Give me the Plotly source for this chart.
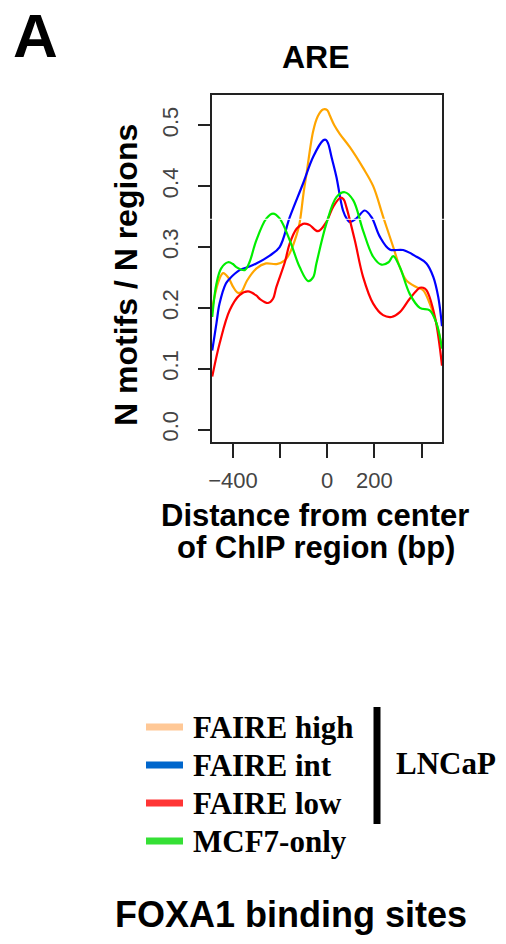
import plotly.graph_objects as go

# ARE motif density around FOXA1 ChIP region centres (N motifs / N regions)
high_x = [-488, -460, -442, -420, -400, -380, -365, -340, -300, -260, -215, -180, -159, -130, -117,
          -100, -88, -60, -40, -18, 0, 11, 30, 53, 96, 152, 195, 237, 280, 308, 336, 379, 407,
          435, 464, 487]
high_y = [0.200, 0.245, 0.257, 0.250, 0.235, 0.225, 0.226, 0.245, 0.265, 0.273, 0.272, 0.278,
          0.290, 0.320, 0.340, 0.390, 0.420, 0.490, 0.515, 0.526, 0.525, 0.516, 0.500, 0.486,
          0.464, 0.430, 0.400, 0.350, 0.300, 0.267, 0.245, 0.234, 0.229, 0.207, 0.174, 0.135]

int_x = [-488, -470, -457, -430, -414, -372, -330, -301, -244, -202, -159, -103, -60, -18, -5, 4,
         20, 39, 67, 85, 96, 124, 159, 188, 223, 265, 322, 379, 421, 450, 471, 487]
int_y = [0.130, 0.175, 0.207, 0.240, 0.248, 0.262, 0.268, 0.273, 0.286, 0.300, 0.349, 0.404,
         0.448, 0.475, 0.476, 0.470, 0.445, 0.415, 0.360, 0.345, 0.341, 0.347, 0.360, 0.349,
         0.317, 0.296, 0.295, 0.284, 0.273, 0.251, 0.218, 0.170]

low_x = [-488, -457, -414, -372, -336, -300, -287, -251, -230, -216, -180, -159, -130, -103, -88,
         -74, -39, -4, 25, 56, 70, 81, 117, 152, 195, 237, 273, 308, 350, 393, 407, 421, 457, 487]
low_y = [0.087, 0.141, 0.196, 0.221, 0.227, 0.220, 0.215, 0.208, 0.215, 0.234, 0.275, 0.306,
         0.330, 0.338, 0.338, 0.336, 0.326, 0.341, 0.366, 0.381, 0.378, 0.366, 0.311, 0.251,
         0.207, 0.188, 0.185, 0.193, 0.215, 0.233, 0.233, 0.229, 0.185, 0.105]

mcf7_x = [-488, -470, -450, -421, -400, -386, -350, -330, -301, -258, -230, -202, -159, -117, -81,
          -60, -46, -4, 39, 74, 110, 152, 195, 230, 260, 280, 308, 350, 393, 435, 464, 487]
mcf7_y = [0.185, 0.240, 0.265, 0.275, 0.272, 0.267, 0.262, 0.275, 0.311, 0.347, 0.355, 0.347,
          0.311, 0.267, 0.244, 0.250, 0.273, 0.338, 0.382, 0.390, 0.377, 0.327, 0.284, 0.271,
          0.275, 0.285, 0.267, 0.223, 0.200, 0.196, 0.174, 0.133]

series_names = ["FAIRE high", "FAIRE int", "FAIRE low", "MCF7-only"]
line_colors = ["#FFA500", "#0000FF", "#FF0000", "#00EE00"]
key_colors = ["#FFC896", "#0066CC", "#FF3535", "#35E035"]

x_tick_vals = [-400, -200, 0, 200, 400]
x_tick_text = ["\u2212400", "", "0", "200", ""]
y_tick_vals = [0.0, 0.1, 0.2, 0.3, 0.4, 0.5]
y_tick_text = ["0.0", "0.1", "0.2", "0.3", "0.4", "0.5"]

W, H = 506, 944
ML, MR, MT, MB = 212, 64, 95, 502
PW, PH = W - ML - MR, H - MT - MB


def px(x):
    return (x - ML) / PW


def py(y):
    return (H - MB - y) / PH


SANS = "Liberation Sans"
SERIF = "Liberation Serif"

fig = go.Figure()
for xs, ys, name, col in zip([high_x, int_x, low_x, mcf7_x], [high_y, int_y, low_y, mcf7_y],
                             series_names, line_colors):
    fig.add_trace(go.Scatter(x=xs, y=ys, mode="lines", name=name,
                             line=dict(color=col, width=2.2, shape="spline", smoothing=1.0),
                             showlegend=False))

axis_common = dict(showline=True, mirror=True, linewidth=2, linecolor="#222",
                   ticks="outside", tickwidth=2, tickcolor="#222",
                   showgrid=False, zeroline=False,
                   tickfont=dict(family=SANS, size=22, color="#444"))

fig.update_xaxes(range=[-489, 487], tickmode="array", tickvals=x_tick_vals,
                 ticktext=x_tick_text, ticklen=14, ticklabelstandoff=4, **axis_common)
fig.update_yaxes(range=[-0.0204, 0.5498], tickmode="array", tickvals=y_tick_vals,
                 ticktext=y_tick_text, ticklen=12, tickangle=-90, ticklabelstandoff=11,
                 **axis_common)

ann = []


def text(x, y, s, size, family=SANS, xanchor="center", angle=0):
    ann.append(dict(x=px(x), y=py(y), xref="paper", yref="paper", text=s, showarrow=False,
                    xanchor=xanchor, yanchor="middle", textangle=angle, borderpad=0,
                    font=dict(family=family, size=size, color="black", weight="bold")))


text(12, 35, "A", 62, xanchor="left")
text(316, 57, "ARE", 32)
text(126, 275, "N motifs / N regions", 32, angle=-90)
text(315, 515, "Distance from center", 31)
text(316, 547, "of ChIP region (bp)", 31)
text(291, 915, "FOXA1 binding sites", 36)

legend_rows = [727, 765, 803, 841]
for name, col, yc in zip(series_names, key_colors, legend_rows):
    text(192, yc, name, 31, family=SERIF, xanchor="left")

text(395, 763, "LNCaP", 31, family=SERIF, xanchor="left")

shapes = []
for col, yc in zip(key_colors, legend_rows):
    shapes.append(dict(type="line", xref="paper", yref="paper", x0=px(146), x1=px(183),
                       y0=py(yc), y1=py(yc), line=dict(color=col, width=7)))
# bracket grouping the LNCaP rows
shapes.append(dict(type="line", xref="paper", yref="paper", x0=px(377), x1=px(377),
                   y0=py(707), y1=py(824), line=dict(color="black", width=7)))
# thin white scan line across the panel
shapes.append(dict(type="line", xref="paper", yref="paper", x0=px(210), x1=px(506),
                   y0=py(219.3), y1=py(219.3), layer="above",
                   line=dict(color="white", width=1)))

fig.update_layout(width=W, height=H, margin=dict(l=ML, r=MR, t=MT, b=MB),
                  paper_bgcolor="white", plot_bgcolor="white",
                  annotations=ann, shapes=shapes)

fig.write_html("out.html")
